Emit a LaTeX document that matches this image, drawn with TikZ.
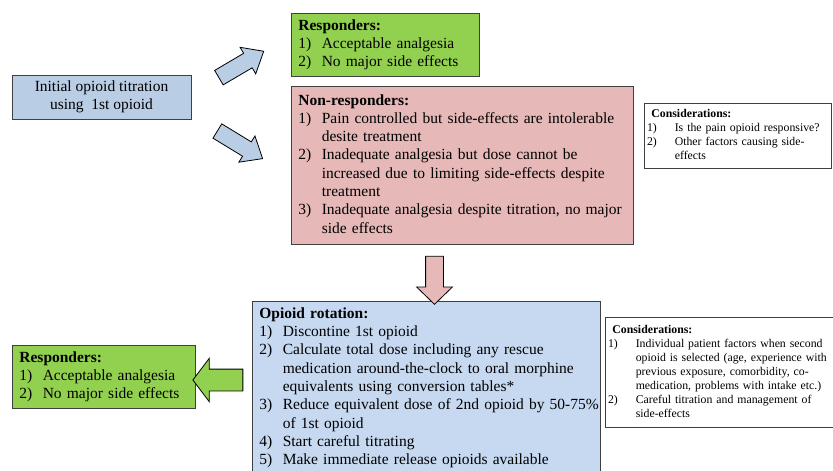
\documentclass[tikz,border=0pt]{standalone}
\usepackage{fontspec}
\setmainfont{Liberation Serif}
\usetikzlibrary{positioning,shapes.arrows}

\definecolor{initblue}{HTML}{B9CDE5}
\definecolor{rotblue}{HTML}{C6D9F1}
\definecolor{respgreen}{HTML}{92D050}
\definecolor{nonpink}{HTML}{E6B9B8}
\definecolor{edgegray}{HTML}{3F3F3F}

% heading row of a list box
\newcommand{\hd}[1]{\multicolumn{2}{@{}l@{}}{\textbf{#1}}\\}

\tikzset{
  box/.style={rectangle,draw=edgegray,line width=0.8pt,anchor=north west,
    inner xsep=7pt,inner ysep=0pt,align=left,
    font=\fontsize{15.5}{18.3}\selectfont},
  smallbox/.style={box,fill=white,font=\fontsize{11.8}{14}\selectfont},
  blockarrow/.style={single arrow,draw=black,line width=0.8pt,inner xsep=0pt,
    single arrow head indent=0pt}
}

\begin{document}
\begin{tikzpicture}[x=1pt,y=-1pt]
  \useasboundingbox (0,0) rectangle (833,471);

  % start
  \node[box,anchor=center,align=center,fill=initblue,minimum width=179pt,minimum height=44pt] (init) at (101.5,97) {Initial opioid titration\\using\ \ 1st opioid};

  % first titration outcome
  \node[box,fill=respgreen,text width=174pt,minimum height=63pt] (resp) at (291,13) {%
    \begin{tabular}{@{}p{23.4pt}@{}l@{}}
      \hd{Responders:}
      1) & Acceptable analgesia\\
      2) & No major side effects
    \end{tabular}};
  \node[box,fill=nonpink,text width=328pt,minimum height=158pt] (nonresp) at (291,86) {%
    \begin{tabular}{@{}p{23.4pt}@{}l@{}}
      \hd{Non-responders:}
      1) & Pain controlled but side-effects are intolerable\\
         & desite treatment\\
      2) & Inadequate analgesia but dose cannot be\\
         & increased due to limiting side-effects despite\\
         & treatment\\
      3) & Inadequate analgesia despite titration, no major\\
         & side effects
    \end{tabular}};
  \node[smallbox,text width=173pt,minimum height=65pt] (consA) at (644,103) {%
    \begin{tabular}{@{\hspace{-4.4pt}}p{27.8pt}@{}l@{}}
      \hd{Considerations:}
      1) & Is the pain opioid responsive?\\
      2) & Other factors causing side-\\
         & effects
    \end{tabular}};

  % rotation
  \node[box,fill=rotblue,text width=334pt,minimum height=172.7pt] (rot) at (252,301) {%
    \begin{tabular}{@{}p{23.4pt}@{}l@{}}
      \hd{Opioid rotation:}
      1) & Discontine 1st opioid\\
      2) & Calculate total dose including any rescue\\
         & medication around-the-clock to oral morphine\\
         & equivalents using conversion tables*\\
      3) & Reduce equivalent dose of 2nd opioid by 50-75\%\\
         & of 1st opioid\\
      4) & Start careful titrating\\
      5) & Make immediate release opioids available
    \end{tabular}};
  \node[smallbox,text width=221pt,minimum height=110pt] (consB) at (605,317) {%
    \begin{tabular}{@{\hspace{-4.4pt}}p{27.8pt}@{}l@{}}
      \hd{Considerations:}
      1) & Individual patient factors when second\\
         & opioid is selected (age, experience with\\
         & previous exposure, comorbidity, co-\\
         & medication, problems with intake etc.)\\
      2) & Careful titration and management of\\
         & side-effects
    \end{tabular}};
  \node[box,fill=respgreen,text width=169pt,minimum height=63pt] (respB) at (12,345) {%
    \begin{tabular}{@{}p{23.4pt}@{}l@{}}
      \hd{Responders:}
      1) & Acceptable analgesia\\
      2) & No major side effects
    \end{tabular}};

  % block arrows
  \node[blockarrow,fill=initblue,inner ysep=8pt,minimum height=52pt,minimum width=30pt,single arrow head extend=7pt,single arrow tip angle=80,rotate=30.5] (toResp) at (237,67) {};
  \node[blockarrow,fill=initblue,inner ysep=8pt,minimum height=53pt,minimum width=30pt,single arrow head extend=7pt,single arrow tip angle=80,rotate=-31.4] (toNon) at (235.7,142.2) {};
  \node[blockarrow,fill=nonpink,inner ysep=8.5pt,minimum height=48pt,minimum width=35pt,single arrow head extend=9pt,single arrow tip angle=92,rotate=-90] (toRot) at (434.5,276) {};
  \node[blockarrow,fill=respgreen,inner ysep=10.5pt,minimum height=50pt,minimum width=42.7pt,single arrow head extend=10.85pt,single arrow tip angle=106,rotate=180] (toRespB) at (222,380) {};
\end{tikzpicture}
\end{document}
